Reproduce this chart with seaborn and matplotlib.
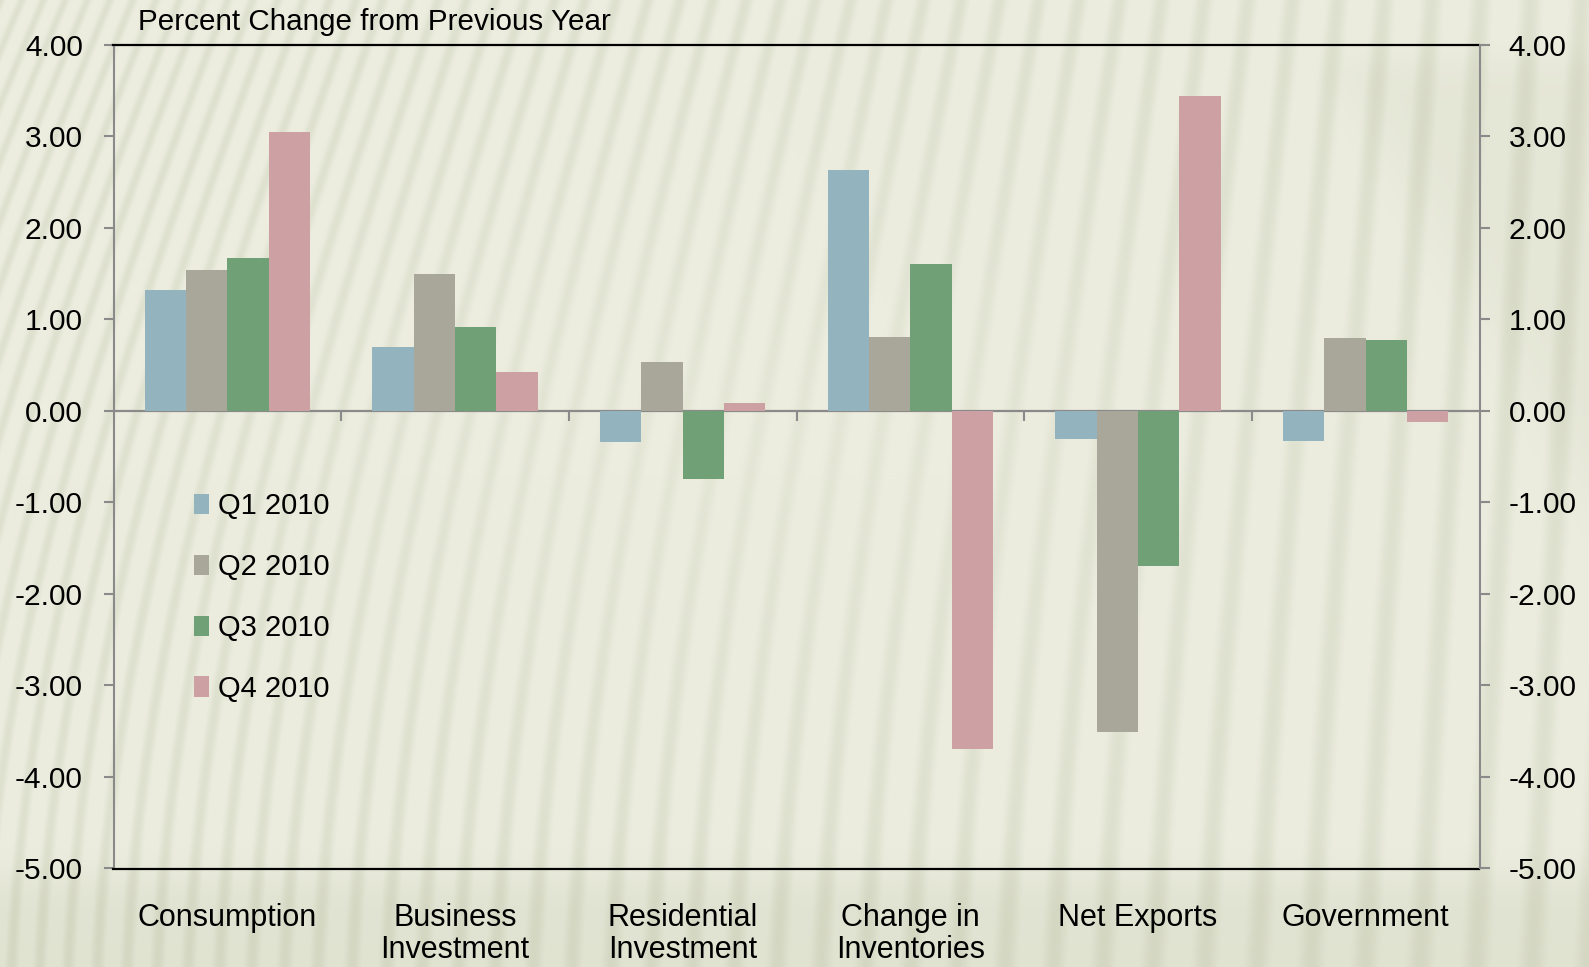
import numpy as np
import pandas as pd
import matplotlib
matplotlib.use("Agg")
import matplotlib.pyplot as plt
from matplotlib.ticker import FormatStrFormatter
import seaborn as sns

# --- data -------------------------------------------------------------
categories = ["Consumption", "Business\nInvestment", "Residential\nInvestment",
              "Change in\nInventories", "Net Exports", "Government"]
quarters = ["Q1 2010", "Q2 2010", "Q3 2010", "Q4 2010"]
q1_2010 = [1.32, 0.70, -0.34, 2.63, -0.31, -0.33]
q2_2010 = [1.54, 1.49, 0.53, 0.81, -3.51, 0.79]
q3_2010 = [1.67, 0.92, -0.75, 1.60, -1.70, 0.77]
q4_2010 = [3.05, 0.42, 0.08, -3.70, 3.44, -0.12]
y_ticks = [4, 3, 2, 1, 0, -1, -2, -3, -4, -5]
title = "Percent Change from Previous Year"

series = [q1_2010, q2_2010, q3_2010, q4_2010]
df = pd.DataFrame({
    "category": np.repeat([categories], len(quarters), axis=0).ravel(),
    "quarter": np.repeat(quarters, len(categories)),
    "value": np.concatenate(series),
})
colors = ["#93b4bf", "#a8a799", "#70a176", "#cda0a3"]

# --- style ------------------------------------------------------------
sns.set_style("white")
plt.rcParams["font.family"] = ["Liberation Sans", "DejaVu Sans"]
plt.rcParams["axes.unicode_minus"] = False
plt.rcParams["text.color"] = "black"

W, H, DPI = 1589, 967, 100
fig = plt.figure(figsize=(W / DPI, H / DPI), dpi=DPI)

# --- striped backdrop ----------------------------------------------------
yy, xx = np.mgrid[0:H, 0:W].astype(float)
tilt = 0.40 * (1 - xx / W) ** 1.3 * (1 - 0.5 * yy / H) + 0.03
u = xx + tilt * yy
period = 21 + 12 * (xx / W)
wave = 0.5 + 0.5 * np.cos(2 * np.pi * u / period)
stripe = np.clip((wave - 0.35) / 0.65, 0, 1) ** 1.4
# stripes fade a little toward the middle of the picture
cx, cy = (xx - 760) / 700, (yy - 420) / 420
fade = 0.55 + 0.45 * np.clip(np.sqrt(cx ** 2 + cy ** 2), 0, 1)
light = np.array([236, 237, 223]) / 255
dark = np.array([212, 215, 194]) / 255
shade = 0.55 * stripe * fade
# darker band along the bottom and a shaded patch at the upper right
shade += 0.45 / (1 + np.exp(-(yy - 875) / 12))
shade += 0.30 / (1 + np.exp(-(xx - 1330 - 0.6 * (yy - 60)) / 18)) * (1 / (1 + np.exp(-(yy - 60) / 10)))
shade = np.clip(shade, 0, 1.2)
img = light[None, None, :] * (1 - shade[..., None]) + dark[None, None, :] * shade[..., None]
img = np.clip(img, 0, 1)
bg = fig.add_axes([0, 0, 1, 1], zorder=-5)
bg.imshow(img, aspect="auto", interpolation="bilinear")
bg.axis("off")

# --- bars ---------------------------------------------------------------
left, right = 113.5 / W, 1479.5 / W
bottom, top = 1 - 868.5 / H, 1 - 44.6 / H
ax = fig.add_axes([left, bottom, right - left, top - bottom])
ax.set_facecolor("none")

sns.barplot(data=df, x="category", y="value", hue="quarter", order=categories,
            hue_order=quarters, palette=colors, saturation=1, width=0.727,
            errorbar=None, linewidth=0, ax=ax)

ax.set_xlim(-0.5, len(categories) - 0.5)
ax.set_ylim(-5, 4)
ax.set_yticks(y_ticks)
ax.yaxis.set_major_formatter(FormatStrFormatter("%.2f"))
ax.set_xlabel("")
ax.set_ylabel("")

gray = "#8a8a8a"
for side in ("top", "bottom"):
    ax.spines[side].set_color("black")
    ax.spines[side].set_linewidth(1.6)
ax.spines["left"].set_color(gray)
ax.spines["left"].set_linewidth(1.5)
ax.spines["right"].set_visible(False)

ax.tick_params(axis="y", which="major", direction="out", length=7, width=1.5,
               color=gray, labelsize=21.5, pad=15, left=True, labelcolor="black")
ax.tick_params(axis="x", length=0, labelsize=22, pad=24.5, labelcolor="black")
for lab in ax.get_xticklabels():
    lab.set_linespacing(1.12)

# category axis crossing at zero, with ticks between categories
zero_axis = ax.secondary_xaxis(0, transform=ax.transData)
zero_axis.spines["bottom"].set_color(gray)
zero_axis.spines["bottom"].set_linewidth(1.6)
zero_axis.set_xticks(np.arange(0.5, len(categories) - 0.5, 1.0))
zero_axis.tick_params(axis="x", direction="out", length=7, width=1.5,
                      color=gray, labelbottom=False)

# mirrored value axis on the right
ax2 = ax.twinx()
ax2.set_facecolor("none")
ax2.set_ylim(ax.get_ylim())
ax2.set_yticks(y_ticks)
ax2.yaxis.set_major_formatter(FormatStrFormatter("%.2f"))
for side in ("top", "bottom", "left"):
    ax2.spines[side].set_visible(False)
ax2.spines["right"].set_color(gray)
ax2.spines["right"].set_linewidth(1.5)
ax2.tick_params(axis="y", direction="out", length=7, width=1.5, color=gray,
                labelsize=21.5, pad=14, labelcolor="black")
ax2.grid(False)
ax.grid(False)

# legend
handles, labels = ax.get_legend_handles_labels()
if ax.get_legend() is not None:
    ax.get_legend().remove()
ax.legend(handles, labels, loc="upper left",
          bbox_to_anchor=(193.5 / W, 1 - 492 / H), bbox_transform=fig.transFigure,
          frameon=False, fontsize=21, borderpad=0, borderaxespad=0,
          handlelength=0.53, handleheight=0.7, handletextpad=0.3,
          labelspacing=1.13)

fig.text(138 / W, 1 - 30 / H, title, fontsize=21.3, ha="left", va="baseline")

fig.savefig("out.png", dpi=DPI)
